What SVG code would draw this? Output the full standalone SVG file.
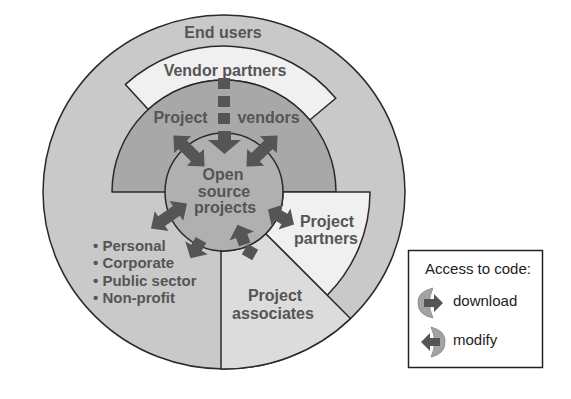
<svg xmlns="http://www.w3.org/2000/svg" width="571" height="399" viewBox="0 0 571 399">
<style>
.ln{stroke:#2a2a2a;stroke-width:1.5;stroke-linejoin:round}
.lbl{font-family:"Liberation Sans",Arial,sans-serif;font-weight:bold;font-size:16px;fill:#555;text-anchor:middle}
.bul{font-family:"Liberation Sans",Arial,sans-serif;font-weight:bold;font-size:15px;fill:#555}
.leg{font-family:"Liberation Sans",Arial,sans-serif;font-size:15px;fill:#222}
.arr{fill:#555}
</style>
<defs>
<path id="dbl" d="M-22,0 L-9,-12 L-9,-6 L9,-6 L9,-12 L22,0 L9,12 L9,6 L-9,6 L-9,12 Z"/>
<path id="dbs" d="M-15,0 L-4,-12 L-4,-6 L4,-6 L4,-12 L15,0 L4,12 L4,6 L-4,6 L-4,12 Z"/>
<path id="sht" d="M-8,-6 L1,-6 L1,-13 L13,0 L1,13 L1,6 L-8,6 Z"/>
</defs>
<rect width="571" height="399" fill="#fff"/>
<g id="end-users">
<ellipse cx="224" cy="192" rx="181" ry="177" fill="#c9c9c9" class="ln"/>
<text class="lbl" x="223" y="38">End users</text>
<text class="bul" x="93" y="251">• Personal</text>
<text class="bul" x="93" y="268">• Corporate</text>
<text class="bul" x="93" y="286">• Public sector</text>
<text class="bul" x="93" y="303">• Non-profit</text>
</g>
<g id="vendor-partners">
<path d="M125.4,84.4 A146,146 0 0 1 335.8,98.2 L309.8,120 A112,112 0 0 0 148.3,109.4 Z" fill="#f0f0f0" class="ln"/>
<text class="lbl" x="225" y="76">Vendor partners</text>
</g>
<g id="project-vendors">
<path d="M112,192 A112,112 0 0 1 336,192 Z" fill="#a8a8a8" class="ln"/>
<text class="lbl" x="180.5" y="123">Project</text>
<text class="lbl" x="268.5" y="123">vendors</text>
</g>
<g id="project-partners">
<path d="M283,192 L370,192 A146,146 0 0 1 327.2,295.2 L265.7,233.7 A59,59 0 0 0 283,192 Z" fill="#f0f0f0" class="ln"/>
<text class="lbl" x="327" y="227">Project</text>
<text class="lbl" x="326" y="244">partners</text>
</g>
<g id="project-associates">
<path d="M265.7,233.7 L350.5,318.5 A181,177 0 0 1 221,369 L221,250.9 A59,59 0 0 0 265.7,233.7 Z" fill="#dcdcdc" class="ln"/>
<text class="lbl" x="275" y="301">Project</text>
<text class="lbl" x="273" y="319">associates</text>
</g>
<g id="open-source-projects">
<circle cx="224" cy="192" r="59" fill="#b0b0b0" class="ln"/>
<text class="lbl" x="223" y="180">Open</text>
<text class="lbl" x="224" y="197">source</text>
<text class="lbl" x="225" y="213">projects</text>
</g>
<g id="connectors" class="arr">
<rect x="218" y="78" width="12" height="11"/>
<rect x="218" y="96" width="12" height="11"/>
<rect x="218" y="113" width="12" height="11"/>
<path d="M218,131 L231,131 L231,140 L241,140 L224.5,154 L208,140 L218,140 Z"/>
<use href="#dbl" transform="translate(189,151) rotate(45)"/>
<use href="#dbl" transform="translate(262,151) rotate(-45)"/>
<use href="#dbl" transform="translate(169,216) rotate(-35)"/>
<use href="#sht" transform="translate(197,247) rotate(120)"/>
<use href="#dbs" transform="translate(281,217) rotate(30)"/>
<use href="#sht" transform="translate(242,237) rotate(-110)"/>
<rect x="-6" y="-6" width="12" height="12" transform="translate(250,252) rotate(30)"/>
</g>
<g id="legend">
<rect x="408.5" y="250.5" width="134" height="117" fill="#fff" stroke="#222" stroke-width="1.5"/>
<text class="leg" x="478" y="274" text-anchor="middle">Access to code:</text>
<path d="M433,288 Q417,292 418,303 Q418,315 433,318 Q426,303 433,288 Z" fill="#a3a3a3" stroke="#888" stroke-width="0.8"/>
<path d="M424,299 L434,299 L434,294 L443,303 L434,312 L434,307 L424,307 Z" fill="#555"/>
<text class="leg" x="453" y="306">download</text>
<path d="M431,327 Q446,331 445,342 Q445,354 431,357 Q438,342 431,327 Z" fill="#a3a3a3" stroke="#888" stroke-width="0.8"/>
<path d="M440,338 L430,338 L430,333 L421,342 L430,351 L430,346 L440,346 Z" fill="#555"/>
<text class="leg" x="453" y="345">modify</text>
</g>
</svg>
